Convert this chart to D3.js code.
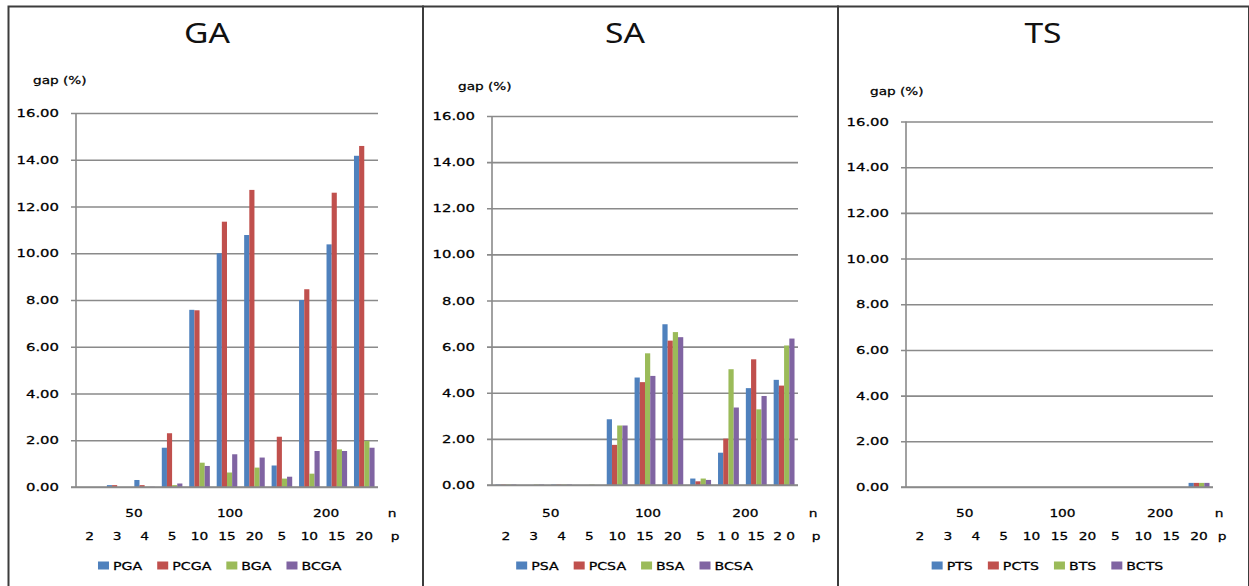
<!DOCTYPE html>
<html>
<head>
<meta charset="utf-8">
<script src="https://cdn.jsdelivr.net/npm/d3@7"></script>
<style>
  html, body { margin: 0; padding: 0; background: #fff; }
  svg { display: block; }
  text { white-space: pre; }
</style>
</head>
<body>
<svg id="chart" width="1249" height="586"></svg>
<script>
// ---- data ----
const nLabels = ["50", "100", "200"];
const nOfCategory = ["50", "50", "50", "50", "100", "100", "100", "200", "200", "200", "200"];
const pLabels = ["2", "3", "4", "5", "10", "15", "20", "5", "10", "15", "20"];
const pLabelsSA = ["2", "3", "4", "5", "10", "15", "20", "5", "1 0", "15", "2 0"];
const yTicks = [0, 2, 4, 6, 8, 10, 12, 14, 16];

const gaNames = ["PGA", "PCGA", "BGA", "BCGA"];
const PGA  = [0, 0.08, 0.30, 1.68, 7.58, 10.00, 10.78, 0.92, 8.00, 10.38, 14.17];
const PCGA = [0, 0.08, 0.08, 2.30, 7.56, 11.35, 12.71, 2.15, 8.46, 12.59, 14.59];
const BGA  = [0, 0, 0.01, 0.08, 1.04, 0.62, 0.83, 0.36, 0.57, 1.61, 1.97];
const BCGA = [0, 0, 0.01, 0.15, 0.90, 1.40, 1.26, 0.44, 1.54, 1.54, 1.68];

const saNames = ["PSA", "PCSA", "BSA", "BCSA"];
const PSA  = [0.02, 0, 0.02, 0, 2.85, 4.66, 6.97, 0.28, 1.40, 4.20, 4.56];
const PCSA = [0.02, 0, 0.02, 0, 1.74, 4.46, 6.26, 0.16, 2.01, 5.45, 4.31];
const BSA  = [0.02, 0.02, 0.02, 0.02, 2.58, 5.71, 6.63, 0.28, 5.02, 3.28, 6.05];
const BCSA = [0.02, 0.02, 0.02, 0, 2.58, 4.73, 6.41, 0.22, 3.36, 3.86, 6.35];

const tsNames = ["PTS", "PCTS", "BTS", "BCTS"];
const PTS  = [0, 0, 0, 0, 0, 0, 0, 0, 0, 0, 0.18];
const PCTS = [0, 0, 0, 0, 0, 0, 0, 0, 0, 0, 0.18];
const BTS  = [0, 0, 0, 0, 0, 0, 0, 0, 0, 0, 0.18];
const BCTS = [0, 0, 0, 0, 0, 0, 0, 0, 0, 0, 0.18];

const seriesColors = ["#4F81BD", "#C0504D", "#9BBB59", "#8064A2"];

// ---- layout ----
const panels = [
  { title: "GA", names: gaNames, series: [PGA, PCGA, BGA, BCGA], pText: pLabels,
    left: 8.5, right: 423, x0: 76, x1: 378, y0: 113, y1: 487, titleX: 207, gapX: 33, gapY: 84, nameX: 392 },
  { title: "SA", names: saNames, series: [PSA, PCSA, BSA, BCSA], pText: pLabelsSA,
    left: 423, right: 838, x0: 492, x1: 798, y0: 116, y1: 485, titleX: 625, gapX: 458, gapY: 90, nameX: 813 },
  { title: "TS", names: tsNames, series: [PTS, PCTS, BTS, BCTS], pText: pLabels,
    left: 838, right: 1249, x0: 906, x1: 1213, y0: 121.5, y1: 487, titleX: 1043, gapX: 870, gapY: 95, nameX: 1219 }
];

const svg = d3.select("#chart");
const SMALL_FONT = "'DejaVu Sans', Verdana, sans-serif";
const TITLE_FONT = "'Noto Sans', 'Open Sans', sans-serif";

// Text drawn with a horizontal stretch around its anchor point.
function txt(g, x, y, str, o = {}) {
  const sx = o.sx ?? 1.3;
  const fill = o.fill ?? "#000";
  return g.append("text")
    .attr("transform", `translate(${x},${y}) scale(${sx},1)`)
    .attr("text-anchor", o.anchor ?? "middle")
    .attr("font-family", o.font ?? SMALL_FONT)
    .attr("font-size", o.size ?? 11)
    .attr("fill", fill)
    .attr("stroke", o.weight === false ? "none" : fill)
    .attr("stroke-width", 0.25)
    .text(str);
}

// panel frames
panels.forEach(p => {
  svg.append("rect")
    .attr("x", p.left).attr("y", 6.5)
    .attr("width", p.right - p.left).attr("height", 620)
    .attr("fill", "none").attr("stroke", "#3c3c3c").attr("stroke-width", 2);
});

panels.forEach(p => {
  const g = svg.append("g");
  const cats = d3.range(pLabels.length);

  const x = d3.scaleBand().domain(cats).range([p.x0, p.x1]).paddingInner(0.25).paddingOuter(0.125);
  const xs = d3.scaleBand().domain(d3.range(p.series.length)).range([0, x.bandwidth()]);
  const y = d3.scaleLinear().domain([0, 16]).range([p.y1, p.y0]);

  // title
  txt(g, p.titleX, 43, p.title, { font: TITLE_FONT, size: 28, sx: 1.2, fill: "#111", weight: false });
  // value axis name
  txt(g, p.gapX, p.gapY, "gap (%)", { anchor: "start", size: 10.5, sx: 1.3 });

  // gridlines via d3 axis
  const yAxis = d3.axisLeft(y).tickValues(yTicks).tickFormat(d3.format(".2f"))
    .tickSize(-(p.x1 - p.x0)).tickPadding(0);
  const ag = g.append("g").attr("transform", `translate(${p.x0},0)`).call(yAxis);
  ag.select(".domain").remove();
  ag.selectAll(".tick line").attr("x1", -5).attr("stroke", "#8a8a8a").attr("stroke-width", 1.6);
  ag.selectAll(".tick text").remove();
  // tick labels
  yTicks.forEach(v => {
    txt(g, p.x0 - 17, y(v) + 4, d3.format(".2f")(v), { anchor: "end", size: 11, sx: 1.35 });
  });
  // vertical value axis line
  g.append("line")
    .attr("x1", p.x0).attr("x2", p.x0).attr("y1", y(16)).attr("y2", y(0))
    .attr("stroke", "#8a8a8a").attr("stroke-width", 1.6);

  // bars
  p.series.forEach((vals, si) => {
    g.append("g").attr("fill", seriesColors[si])
      .selectAll("rect").data(vals).join("rect")
      .attr("x", (d, i) => x(i) + xs(si))
      .attr("width", xs.bandwidth())
      .attr("y", d => y(d))
      .attr("height", d => y(0) - y(d));
  });
  // zero line drawn over the bar bases
  g.append("line")
    .attr("x1", p.x0 - 5).attr("x2", p.x1).attr("y1", y(0)).attr("y2", y(0))
    .attr("stroke", "#8a8a8a").attr("stroke-width", 1.6);

  // category labels: p row and n row
  cats.forEach(i => {
    txt(g, x(i) + x.bandwidth() / 2, 540, p.pText[i], { size: 11, sx: 1.25 });
  });
  nLabels.forEach(n => {
    const idx = cats.filter(i => nOfCategory[i] === n);
    const a = x(idx[0]) - x.step() * x.paddingInner() / 2;
    const b = x(idx[idx.length - 1]) + x.bandwidth() + x.step() * x.paddingInner() / 2;
    txt(g, (a + b) / 2 + 3, 517, n, { size: 11, sx: 1.25 });
  });
  txt(g, p.nameX, 517, "n", { size: 11, sx: 1.25 });
  txt(g, p.nameX + 3, 540, "p", { size: 11, sx: 1.25 });

  // legend
  const lg = g.append("g");
  const items = p.names.map((name, i) => {
    const it = lg.append("g");
    it.append("rect").attr("x", 0).attr("y", -8.5).attr("width", 11).attr("height", 8)
      .attr("fill", seriesColors[i]);
    const t = txt(it, 15, 0, name, { anchor: "start", size: 10.5, sx: 1.35 });
    const w = 15 + t.node().getComputedTextLength() * 1.35;
    return { it, w };
  });
  const gap = 15;
  const total = d3.sum(items, d => d.w) + gap * (items.length - 1);
  let cx = (p.left + p.right) / 2 + 4 - total / 2;
  items.forEach(d => {
    d.it.attr("transform", `translate(${cx},570)`);
    cx += d.w + gap;
  });
});
</script>
</body>
</html>
